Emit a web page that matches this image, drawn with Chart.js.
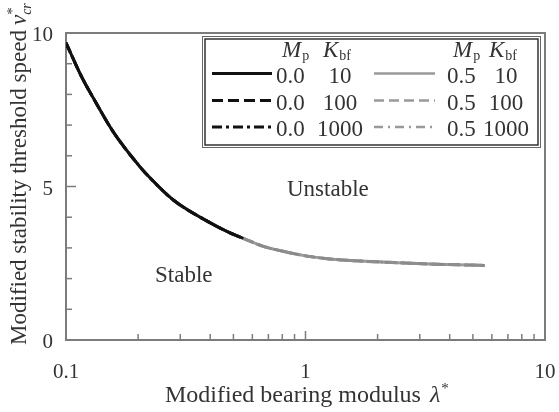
<!DOCTYPE html>
<html>
<head>
<meta charset="utf-8">
<script src="https://cdn.jsdelivr.net/npm/chart.js@4/dist/chart.umd.min.js"></script>
<style>
  html, body { margin: 0; padding: 0; background: #fff; }
  canvas { display: block; }
</style>
</head>
<body>
<canvas id="myChart" width="559" height="412"></canvas>
<script>
// stability threshold curves, Mp = 0.0 (same for all Kbf)
const lambdaMp0 = [0.1, 0.1166, 0.1325, 0.1575, 0.2037, 0.2244, 0.2806, 0.3868, 0.4838, 0.55];
const speedMp0  = [9.68, 8.55, 7.77, 6.78, 5.64, 5.28, 4.56, 3.88, 3.49, 3.31];
// Mp = 0.5
const lambdaMp5 = [0.55, 0.6668, 0.7967, 1.0, 1.265, 1.70, 2.40, 3.50, 5.60];
const speedMp5  = [3.31, 3.05, 2.90, 2.74, 2.64, 2.57, 2.52, 2.47, 2.43];

const kValues = ['10', '100', '1000'];
const mpValues = ['0.0', '0.5'];

const xTickValues = [0.1, 0.2, 0.3, 0.4, 0.5, 0.6, 0.7, 0.8, 0.9, 1, 2, 3, 4, 5, 6, 7, 8, 9, 10];
const xTickLabels = [0.1, 1, 10];
const yTickValues = [0, 1, 2, 3, 4, 5, 6, 7, 8, 9, 10];
const yTickLabels = [0, 5, 10];

const SERIF = '"Liberation Serif", "Times New Roman", serif';
const TEXT = '#333';
const FRAME = '#7c7c7c';

const dashes = [[], [11, 5], [10, 4, 3, 4]];
const grayDashColors = ['#9c9c9c', '#888', '#8e8e8e'];

function pts(xs, ys) {
  return xs.map((x, i) => ({ x: x, y: ys[i] }));
}

// dashed sets first so they end up on top of the solid ones
const datasets = [];
for (let k = kValues.length - 1; k >= 0; k--) {
  datasets.push({
    label: 'Mp 0.0 Kbf ' + kValues[k],
    data: pts(lambdaMp0, speedMp0),
    borderColor: '#111',
    borderWidth: 3,
    borderDash: dashes[k]
  });
}
for (let k = kValues.length - 1; k >= 0; k--) {
  datasets.push({
    label: 'Mp 0.5 Kbf ' + kValues[k],
    data: pts(lambdaMp5, speedMp5),
    borderColor: grayDashColors[k],
    borderWidth: 3,
    borderDash: dashes[k]
  });
}
datasets.forEach(d => {
  d.pointRadius = 0;
  d.fill = false;
  d.cubicInterpolationMode = 'monotone';
});

function near(list, v) {
  return list.some(t => Math.abs(t - v) < 1e-9);
}

// text pieces laid out left to right (used for subscripts etc.)
function drawRuns(ctx, x, y, runs) {
  for (const r of runs) {
    ctx.font = r.font;
    ctx.fillText(r.text, x, y + (r.dy || 0));
    x += ctx.measureText(r.text).width + (r.gap || 0);
  }
  return x;
}

const framePlugin = {
  id: 'frame',
  beforeDatasetsDraw(chart) {
    const { ctx, chartArea: a, scales } = chart;
    ctx.save();
    ctx.strokeStyle = FRAME;
    ctx.lineWidth = 1.5;
    // inward ticks on the bottom edge
    for (const v of xTickValues) {
      const px = scales.x.getPixelForValue(v);
      if (px <= a.left + 1 || px >= a.right - 1) continue;
      const len = near(xTickLabels, v) ? 9 : 6;
      ctx.beginPath();
      ctx.moveTo(px, a.bottom);
      ctx.lineTo(px, a.bottom - len);
      ctx.stroke();
    }
    // inward ticks on the left edge
    for (const v of yTickValues) {
      const py = scales.y.getPixelForValue(v);
      if (py <= a.top + 1 || py >= a.bottom - 1) continue;
      const len = near(yTickLabels, v) ? 10 : 6;
      ctx.beginPath();
      ctx.moveTo(a.left, py);
      ctx.lineTo(a.left + len, py);
      ctx.stroke();
    }
    ctx.lineWidth = 2;
    ctx.strokeRect(a.left, a.top, a.right - a.left, a.bottom - a.top);
    ctx.restore();
  },
  afterDraw(chart) {
    const { ctx, chartArea: a, scales } = chart;
    ctx.save();
    ctx.fillStyle = TEXT;
    ctx.textBaseline = 'alphabetic';

    // tick labels
    ctx.font = '21px ' + SERIF;
    ctx.textAlign = 'center';
    for (const v of xTickLabels) {
      ctx.fillText(String(v), scales.x.getPixelForValue(v), a.bottom + 38);
    }
    ctx.textAlign = 'right';
    for (const v of yTickLabels) {
      ctx.fillText(String(v), a.left - 13, scales.y.getPixelForValue(v) + 8);
    }
    ctx.textAlign = 'left';

    // region labels
    ctx.font = '23px ' + SERIF;
    ctx.fillText('Stable', 155, 282);
    ctx.fillText('Unstable', 287, 196);

    // x axis title
    drawRuns(ctx, 165, 402, [
      { text: 'Modified bearing modulus', font: '24px ' + SERIF, gap: 9 },
      { text: 'λ', font: 'italic 24px ' + SERIF, gap: 1 },
      { text: '*', font: '15px ' + SERIF, dy: -9 }
    ]);

    // y axis title, rotated
    ctx.save();
    ctx.translate(26, 345);
    ctx.rotate(-Math.PI / 2);
    const x = drawRuns(ctx, 0, 0, [
      { text: 'Modified stability threshold speed', font: '23px ' + SERIF, gap: 5 },
      { text: 'v', font: 'italic 23px ' + SERIF, gap: 0 }
    ]);
    ctx.font = '15px ' + SERIF;
    ctx.fillText('*', x, -9);
    ctx.font = 'italic 14px ' + SERIF;
    ctx.fillText('cr', x, 5);
    ctx.restore();

    // legend box with double frame
    ctx.strokeStyle = '#666';
    ctx.lineWidth = 1;
    ctx.strokeRect(202.5, 36.5, 338, 111);
    ctx.strokeStyle = '#333';
    ctx.lineWidth = 1.5;
    ctx.strokeRect(205, 39, 333, 106);

    const cols = [
      { lineX: [212, 272], mpX: 276, kX: 340, color: '#111', lw: 3, dash: dashes },
      { lineX: [374, 435], mpX: 447, kX: 506, color: '#999', lw: 2.5, dash: [[], [10, 5], [9, 5, 2, 5]] }
    ];
    const rowBase = [83, 109.5, 136];
    const rowLine = [73.5, 100.5, 127];
    cols.forEach((c, ci) => {
      ctx.fillStyle = TEXT;
      drawRuns(ctx, c.mpX + 6, 57, [
        { text: 'M', font: 'italic 23px ' + SERIF, gap: 1 },
        { text: 'p', font: '14px ' + SERIF, dy: 3 }
      ]);
      drawRuns(ctx, c.kX - 17, 57, [
        { text: 'K', font: 'italic 23px ' + SERIF, gap: 1 },
        { text: 'bf', font: '14px ' + SERIF, dy: 3 }
      ]);
      kValues.forEach((k, ri) => {
        ctx.save();
        ctx.strokeStyle = c.color;
        ctx.lineWidth = c.lw;
        ctx.setLineDash(c.dash[ri]);
        ctx.beginPath();
        ctx.moveTo(c.lineX[0], rowLine[ri]);
        ctx.lineTo(c.lineX[1], rowLine[ri]);
        ctx.stroke();
        ctx.restore();
        ctx.fillStyle = TEXT;
        ctx.font = '23px ' + SERIF;
        ctx.textAlign = 'left';
        ctx.fillText(mpValues[ci], c.mpX, rowBase[ri]);
        ctx.textAlign = 'center';
        ctx.fillText(k, c.kX, rowBase[ri]);
        ctx.textAlign = 'left';
      });
    });
    ctx.restore();
  }
};

const ctx = document.getElementById('myChart');
const myChart = new Chart(ctx, {
  type: 'line',
  data: { datasets: datasets },
  options: {
    responsive: false,
    animation: false,
    events: [],
    layout: { padding: { top: 33, right: 14, left: 0, bottom: 0 } },
    plugins: {
      legend: { display: false },
      tooltip: { enabled: false }
    },
    scales: {
      x: {
        type: 'logarithmic',
        min: 0.1,
        max: 10,
        grid: { display: false },
        border: { display: false },
        afterBuildTicks: s => { s.ticks = xTickValues.map(v => ({ value: v })); },
        afterFit: s => { s.height = 72; },
        ticks: { display: false }
      },
      y: {
        type: 'linear',
        min: 0,
        max: 10,
        grid: { display: false },
        border: { display: false },
        afterBuildTicks: s => { s.ticks = yTickValues.map(v => ({ value: v })); },
        afterFit: s => { s.width = 66; },
        ticks: { display: false }
      }
    }
  },
  plugins: [framePlugin]
});
</script>
</body>
</html>
